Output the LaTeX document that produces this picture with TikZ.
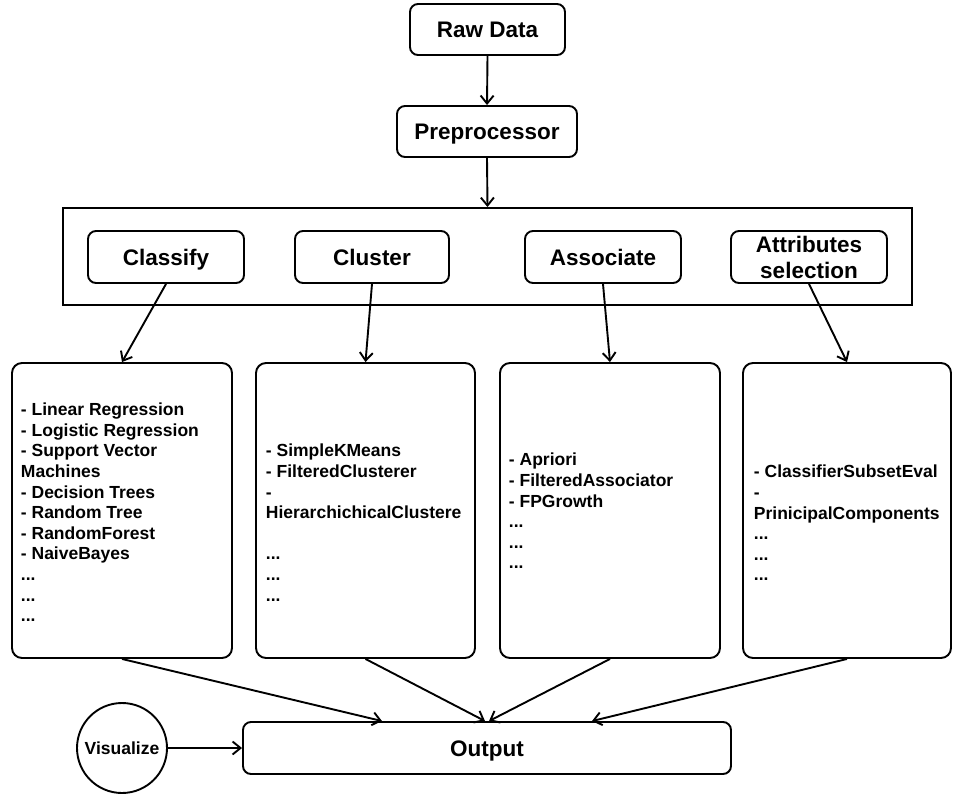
\documentclass[tikz,border=0pt]{standalone}
\usepackage{fontspec}
\setmainfont{Liberation Sans}
\usetikzlibrary{arrows.meta}
\begin{document}
\begin{tikzpicture}[x=1pt,y=-1pt,
  line width=1.9pt,
  stage/.style={draw, rounded corners=8pt, inner sep=0pt,
    font=\fontsize{22.5}{25}\selectfont\bfseries, minimum height=52pt,
    text height=16.2pt, text depth=0pt},
  stagetwo/.style={draw, rounded corners=8pt, inner sep=0pt, align=center,
    font=\fontsize{22.5}{26}\selectfont\bfseries, minimum height=52pt},
  listbox/.style={draw, rounded corners=10pt, inner sep=0pt,
    minimum height=295pt, minimum width=#1},
  listtext/.style={anchor=west, inner sep=0pt, align=left,
    font=\fontsize{17.5}{20.6}\selectfont\bfseries},
  flow/.style={-{Straight Barb[length=8pt,width=13pt]}}
]
\useasboundingbox (0,0) rectangle (956,796);

% pipeline head
\node[stage, minimum width=155pt, minimum height=51pt] (raw) at (487.5,29.5) {Raw Data};
\node[stage, minimum width=180pt, minimum height=51pt] (pre) at (487,131.5) {Preprocessor};

% group of task panels
\node[draw, inner sep=0pt, minimum width=849pt, minimum height=97pt] (grp) at (487.5,256.5) {};
\node[stage, minimum width=156pt] (cls) at (166,257) {Classify};
\node[stage, minimum width=154pt] (clu) at (372,257) {Cluster};
\node[stage, minimum width=156pt] (asc) at (603,257) {Associate};
\node[stagetwo, minimum width=156pt] (att) at (809,257) {Attributes\\selection};

% algorithm lists
\node[listbox=220pt] (l1) at (122,510.5) {};
\node[listbox=219pt] (l2) at (365.5,510.5) {};
\node[listbox=220pt] (l3) at (610,510.5) {};
\node[listbox=208pt] (l4) at (847,510.5) {};

\node[listtext] (t1) at (20,512.3) {- Linear Regression\\- Logistic Regression\\- Support Vector\\Machines\\- Decision Trees\\- Random Tree\\- RandomForest\\- NaiveBayes\\...\\...\\...};
\node[listtext] (t2) at (265,522.7) {- SimpleKMeans\\- FilteredClusterer\\-\\HierarchichicalClustere\\\mbox{}\\...\\...\\...};
\node[listtext] (t3) at (508,511.1) {- Apriori\\- FilteredAssociator\\- FPGrowth\\...\\...\\...};
\node[listtext] (t4) at (753,523.1) {- ClassifierSubsetEval\\-\\PrinicipalComponents\\...\\...\\...};

% result
\node[stage, minimum width=488pt] (out) at (487,748) {Output};
\node[draw, circle, inner sep=0pt, minimum size=90pt,
  font=\fontsize{17.5}{20}\selectfont\bfseries] (vis) at (122,748) {Visualize};

% connectors
\draw[flow] (raw.south) -- (pre.north);
\draw[flow] (pre.south) -- (grp.north);
\draw[flow] (cls.south) -- (l1.north);
\draw[flow] (clu.south) -- (l2.north);
\draw[flow] (asc.south) -- (l3.north);
\draw[flow] (att.south) -- (l4.north);
\draw[flow] (l1.south) -- ([xshift=-105pt]out.north);
\draw[flow] (l2.south) -- ([xshift=-2pt]out.north);
\draw[flow] (l3.south) -- ([xshift=2pt]out.north);
\draw[flow] (l4.south) -- ([xshift=105pt]out.north);
\draw[flow] (vis.east) -- (out.west);
\end{tikzpicture}
\end{document}
